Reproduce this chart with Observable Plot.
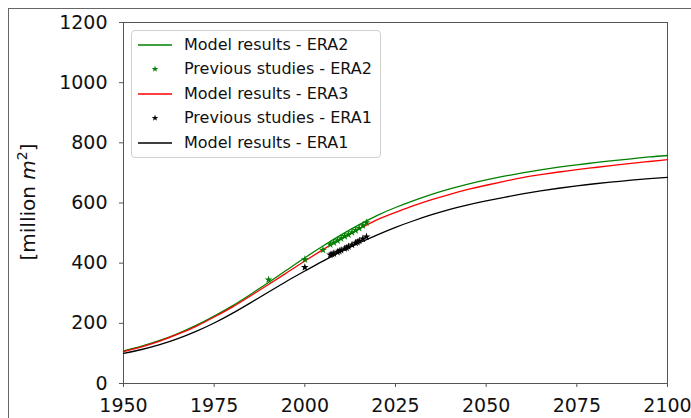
<!DOCTYPE html>
<html>
<head>
<meta charset="utf-8">
<script src="https://cdn.jsdelivr.net/npm/d3@7"></script>
<script src="https://cdn.jsdelivr.net/npm/@observablehq/plot@0.6"></script>
<style>
  html, body { margin: 0; padding: 0; background: #fff; }
  #wrap { position: relative; width: 691px; height: 418px; overflow: hidden; font-family: "DejaVu Sans", sans-serif; }
  #border { position: absolute; left: 8px; top: 8px; width: 800px; height: 600px; border-left: 1px solid #666; border-top: 1px solid #666; }
  #legend { position: absolute; left: 131px; top: 30px; width: 248px; height: 126px; border: 1px solid #d0d0d0; border-radius: 4px; background: rgba(255,255,255,0.85); }
  .row { position: absolute; left: 0; height: 20px; font-size: 16px; line-height: 20px; color: #111; white-space: nowrap; }
  .row svg { position: absolute; left: 4px; top: 0; }
  .row span { position: absolute; left: 52px; top: 0; }
</style>
</head>
<body>
<div id="wrap"><div id="border"></div></div>
<script>
// Projection years (every 5 years)
const years = [1950,1955,1960,1965,1970,1975,1980,1985,1990,1995,2000,2005,2010,2015,2020,2025,2030,2035,2040,2045,2050,2055,2060,2065,2070,2075,2080,2085,2090,2095,2100];

// Model results, million m²
const era2 = [108,124,143,166,193,224,258,296,336,377,418,457,494,528,559,585,608,629,647,663,677,689,700,710,719,727,734,741,747,753,758];
const era3 = [106,122,141,164,190,221,254,291,329,368,407,445,481,514,545,569,591,611,629,645,659,672,684,694,703,711,718,725,732,738,744];
const era1 = [100,113,129,149,173,201,233,268,304,340,374,407,438,467,494,519,541,561,579,594,607,619,630,640,649,657,664,670,676,681,685];

// Previous studies
const prevEra2Years = [1990,2000,2005,2007,2008,2009,2010,2011,2012,2013,2014,2015,2016,2017];
const prevEra2 = [345,412,444,462,468,475,482,489,495,502,509,516,525,535];
const prevEra1Years = [2000,2007,2007.5,2008,2009,2009.5,2010,2011,2011.5,2012,2013,2014,2014.5,2015,2016,2017];
const prevEra1 = [386,428,430,432,437,440,443,448,451,455,461,467,470,474,481,488];

const xTicks = [1950,1975,2000,2025,2050,2075,2100];
const yTicks = [0,200,400,600,800,1000,1200];

const green = "#008000", red = "#ff0000", black = "#000000";

const series = (vals, name) => years.map((yr, i) => ({year: yr, value: vals[i], name}));
const modelRows = [...series(era2, "ERA2"), ...series(era3, "ERA3"), ...series(era1, "ERA1")];
const prev2 = prevEra2Years.map((yr, i) => ({year: yr, value: prevEra2[i]}));
const prev1 = prevEra1Years.map((yr, i) => ({year: yr, value: prevEra1[i]}));

const chart = Plot.plot({
  width: 691,
  height: 418,
  marginLeft: 123,
  marginRight: 24,
  marginTop: 22,
  marginBottom: 35,
  style: {fontFamily: "DejaVu Sans, sans-serif", fontSize: "19px", color: "#111", background: "transparent", overflow: "visible"},
  x: {domain: [1950, 2100]},
  y: {domain: [0, 1200]},
  marks: [
    Plot.frame({stroke: "#555", strokeWidth: 1}),
    Plot.axisX({ticks: xTicks, tickFormat: d => String(d), tickSize: 4, tickPadding: 11, label: null, stroke: "#555", fontSize: 19}),
    Plot.axisY({ticks: yTicks, tickFormat: d => String(d), tickSize: 4, tickPadding: 12, label: null, stroke: "#555", fontSize: 19}),
    Plot.line(modelRows.filter(d => d.name === "ERA1"), {x: "year", y: "value", stroke: black, strokeWidth: 1.3, curve: "natural"}),
    Plot.line(modelRows.filter(d => d.name === "ERA2"), {x: "year", y: "value", stroke: green, strokeWidth: 1.3, curve: "natural"}),
    Plot.line(modelRows.filter(d => d.name === "ERA3"), {x: "year", y: "value", stroke: red, strokeWidth: 1.3, curve: "natural"}),
    Plot.dot(prev2, {x: "year", y: "value", symbol: "star", r: 2.5, fill: green, stroke: "none"}),
    Plot.dot(prev1, {x: "year", y: "value", symbol: "star", r: 2.5, fill: black, stroke: "none"})
  ]
});

// y-axis title with italic unit and superscript
const svg = d3.select(chart);
const title = svg.append("text")
  .attr("transform", "translate(35,202) rotate(-90)")
  .attr("text-anchor", "middle")
  .attr("fill", "#111")
  .style("font-size", "20px");
title.append("tspan").text("[million ");
title.append("tspan").style("font-style", "italic").text("m");
title.append("tspan").attr("baseline-shift", "super").style("font-size", "14px").text("2");
title.append("tspan").text("]");

const wrap = document.getElementById("wrap");
wrap.appendChild(chart);
chart.style.position = "absolute";
chart.style.left = "0";
chart.style.top = "0";

// Legend
const legendItems = [
  {label: "Model results - ERA2", color: green, kind: "line"},
  {label: "Previous studies - ERA2", color: green, kind: "star"},
  {label: "Model results - ERA3", color: red, kind: "line"},
  {label: "Previous studies - ERA1", color: black, kind: "star"},
  {label: "Model results - ERA1", color: black, kind: "line"}
];
const legend = document.createElement("div");
legend.id = "legend";
const starPath = d3.symbol(d3.symbolStar, 14)();
legendItems.forEach((item, i) => {
  const row = document.createElement("div");
  row.className = "row";
  row.style.top = (4 + i * 24.4) + "px";
  row.style.width = "240px";
  const glyph = item.kind === "line"
    ? `<line x1="2" x2="36" y1="10" y2="10" stroke="${item.color}" stroke-width="1.3"/>`
    : `<path d="${starPath}" transform="translate(19,10)" fill="${item.color}"/>`;
  row.innerHTML = `<svg width="40" height="20">${glyph}</svg><span>${item.label}</span>`;
  legend.appendChild(row);
});
wrap.appendChild(legend);
</script>
</body>
</html>
